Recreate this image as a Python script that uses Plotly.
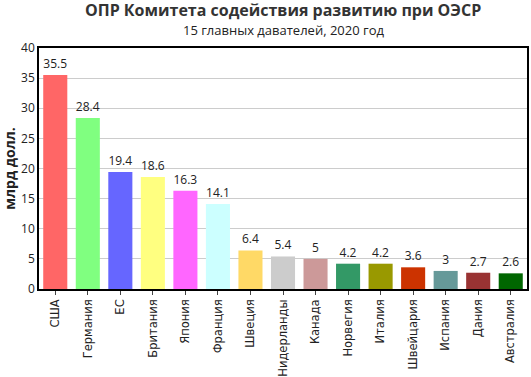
import plotly.graph_objects as go

countries = ["США", "Германия", "ЕС", "Британия", "Япония", "Франция", "Швеция",
             "Нидерланды", "Канада", "Норвегия", "Италия", "Швейцария", "Испания",
             "Дания", "Австралия"]
values = [35.5, 28.4, 19.4, 18.6, 16.3, 14.1, 6.4, 5.4, 5, 4.2, 4.2, 3.6, 3, 2.7, 2.6]
colors = ["#ff6666", "#80ff80", "#6666ff", "#ffff80", "#ff66ff", "#ccffff", "#ffd966",
          "#cccccc", "#cc9999", "#339966", "#999900", "#cc3300", "#669999",
          "#993333", "#006600"]
y_ticks = [0, 5, 10, 15, 20, 25, 30, 35, 40]

fig = go.Figure(go.Bar(
    x=countries, y=values, marker=dict(color=colors, line=dict(width=0)),
    text=[f"{v:g}" for v in values], textposition="outside",
    textfont=dict(family="Open Sans", size=12, color="#222"),
    constraintext="none", cliponaxis=False,
))

fig.update_layout(
    width=531, height=377,
    margin=dict(l=39, r=4, t=48, b=88),
    paper_bgcolor="white", plot_bgcolor="white",
    bargap=0.26,
    showlegend=False,
)
fig.add_annotation(text="<b>ОПР Комитета содействия развитию при ОЭСР</b>",
                   xref="paper", yref="paper", x=0.5, y=1, yshift=38, yanchor="middle",
                   showarrow=False, font=dict(family="Open Sans", size=16, color="#333"))
fig.add_annotation(text="15 главных давателей, 2020 год",
                   xref="paper", yref="paper", x=0.5, y=1, yshift=18, yanchor="middle",
                   showarrow=False, font=dict(family="Open Sans", size=13, color="#222"))

fig.update_xaxes(
    automargin=False,
    tickangle=-90, tickfont=dict(family="DejaVu Sans", size=11.5, color="#222"),
    showline=True, linecolor="black", linewidth=1.5, mirror=True,
    ticks="outside", ticklen=4, tickcolor="#444",
)
fig.update_yaxes(
    automargin=False,
    range=[0, 40], tickvals=y_ticks,
    tickfont=dict(family="Open Sans", size=12, color="#222"),
    showline=True, linecolor="black", linewidth=1.5, mirror=True,
    showgrid=True, gridcolor="#cccccc", gridwidth=1, zeroline=False,
    title=dict(text="<b>млрд долл.</b>", font=dict(family="Open Sans", size=14, color="#222"),
               standoff=4),
)

fig.write_html("out.html", config={"displayModeBar": False},
               post_script="document.body.style.margin='0';")
